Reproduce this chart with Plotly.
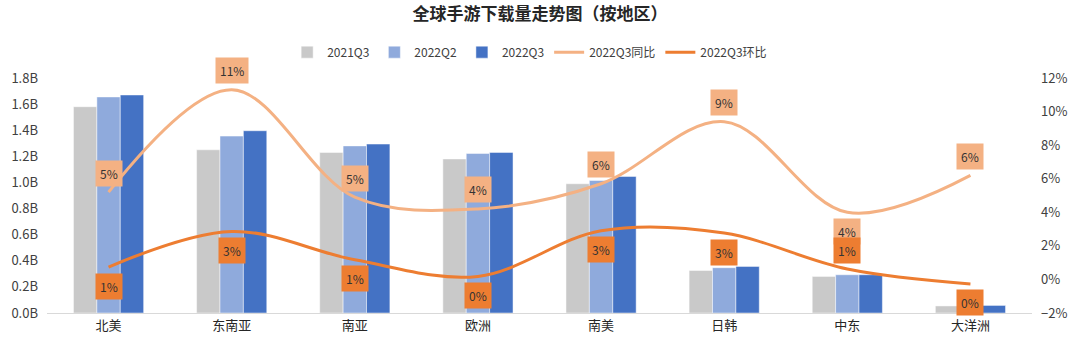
import plotly.graph_objects as go

regions = ["北美", "东南亚", "南亚", "欧洲", "南美", "日韩", "中东", "大洋洲"]
dl_2021q3 = [1.58, 1.25, 1.23, 1.18, 0.99, 0.326, 0.28, 0.054]
dl_2022q2 = [1.655, 1.355, 1.28, 1.222, 1.015, 0.347, 0.293, 0.056]
dl_2022q3 = [1.67, 1.396, 1.294, 1.23, 1.046, 0.357, 0.293, 0.058]
yoy_pct = [5.2, 11.3, 4.9, 4.2, 5.7, 9.4, 4.0, 6.2]
qoq_pct = [0.74, 2.86, 1.17, 0.18, 2.9, 2.76, 0.62, -0.27]

# label placement (style): +1 above the point, -1 below
yoy_side = [1, 1, 1, 1, 1, 1, -1, 1]
qoq_side = [-1, -1, -1, -1, -1, -1, 1, -1]

FONT = "Noto Sans CJK SC"
C_GRAY = "#C9C9C9"
C_LBLUE = "#8FAADC"
C_DBLUE = "#4472C4"
C_LORANGE = "#F4B183"
C_DORANGE = "#ED7D31"

fig = go.Figure()
for name, vals, col in [("2021Q3", dl_2021q3, C_GRAY),
                        ("2022Q2", dl_2022q2, C_LBLUE),
                        ("2022Q3", dl_2022q3, C_DBLUE)]:
    fig.add_trace(go.Bar(x=regions, y=vals, name=name, marker_color=col,
                         marker_line_width=0.6, marker_line_color="rgba(255,255,255,0.8)",
                         yaxis="y"))

fig.add_trace(go.Scatter(x=regions, y=[v / 100 for v in yoy_pct], name="2022Q3同比",
                         mode="lines", line=dict(color=C_LORANGE, width=3, shape="spline", smoothing=1.0),
                         yaxis="y2"))
fig.add_trace(go.Scatter(x=regions, y=[v / 100 for v in qoq_pct], name="2022Q3环比",
                         mode="lines", line=dict(color=C_DORANGE, width=3, shape="spline", smoothing=1.0),
                         yaxis="y2"))

annotations = []
for vals, sides, bg in [(yoy_pct, yoy_side, C_LORANGE), (qoq_pct, qoq_side, C_DORANGE)]:
    for r, v, s in zip(regions, vals, sides):
        annotations.append(dict(
            x=r, y=v / 100, xref="x", yref="y2", text=f"{abs(int(round(v)))}%",
            showarrow=False, yshift=19 * s, bgcolor=bg, borderpad=4,
            font=dict(family=FONT, size=12, color="#333333")))

fig.update_layout(
    width=1080, height=352,
    margin=dict(l=47, r=48, t=78, b=39),
    paper_bgcolor="white", plot_bgcolor="white",
    font=dict(family=FONT, size=13, color="#404040"),
    title=dict(text="<b>全球手游下载量走势图（按地区）</b>", x=0.5, xanchor="center",
               y=1 - 14 / 352, yanchor="middle", yref="container",
               font=dict(family=FONT, size=17, color="#262626")),
    barmode="group", bargap=0.43, bargroupgap=0,
    legend=dict(orientation="h", x=0.49, xanchor="center", y=1.11, yanchor="middle",
                font=dict(family=FONT, size=12, color="#404040"), itemwidth=30,
                traceorder="normal", bgcolor="rgba(0,0,0,0)"),
    xaxis=dict(showgrid=False, showline=True, linecolor="#D9D9D9", linewidth=1,
               ticks="", tickfont=dict(family=FONT, size=13, color="#262626")),
    yaxis=dict(range=[0, 1.8], dtick=0.2, tickformat=".1f", ticksuffix="B",
               showgrid=False, zeroline=False, showline=False, ticks="",
               ticklabelstandoff=8, tickfont=dict(size=13, color="#404040")),
    yaxis2=dict(range=[-0.02, 0.12], dtick=0.02, tickformat=".0%", overlaying="y",
                side="right", showgrid=False, zeroline=False, showline=False, ticks="",
                ticklabelstandoff=8, tickfont=dict(size=13, color="#404040")),
    annotations=annotations,
    showlegend=True,
)

fig.write_html("out.html")
